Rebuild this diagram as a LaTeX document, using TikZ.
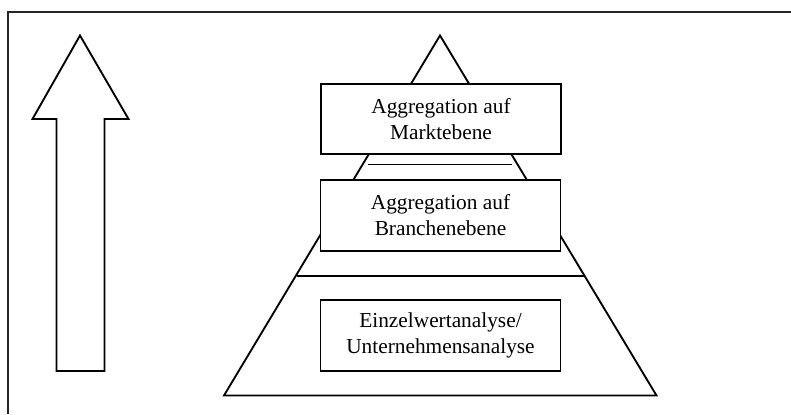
\documentclass[tikz,border=0pt]{standalone}
\usepackage{fontspec}
\setmainfont{Liberation Serif}
\begin{document}
\begin{tikzpicture}[x=0.75pt,y=-0.75pt,
  outline/.style={draw=black,line width=1.4pt,line join=miter},
  levelbox/.style={outline,fill=white,minimum width=180pt,minimum height=53pt,
    inner sep=0pt,align=center,font=\fontsize{16}{19.5}\selectfont}]
  \useasboundingbox (0,0) rectangle (791,414);
  % frame (top and left edges)
  \draw[line width=1.4pt,draw=black!85] (791,12) -- (8,12) -- (8,414);
  % upward arrow
  \draw[outline] (80,35.5) -- (128.5,119) -- (104.5,119) -- (104.5,371)
    -- (56.5,371) -- (56.5,119) -- (32.5,119) -- cycle;
  % pyramid outline and level separators
  \draw[outline] (440,35.5) -- (656.5,395.5) -- (224,395.5) -- cycle;
  \draw[outline] (368,164.5) -- (512,164.5);
  \draw[outline] (296.5,276) -- (584,276);
  % levels
  \node[levelbox] (markt) at (441,119) {Aggregation auf\\Marktebene};
  \node[levelbox] (branche) at (440.5,215.5) {Aggregation auf\\Branchenebene};
  \node[levelbox] (einzel) at (440.5,335.5) {Einzelwertanalyse/\\Unternehmensanalyse};
\end{tikzpicture}
\end{document}
